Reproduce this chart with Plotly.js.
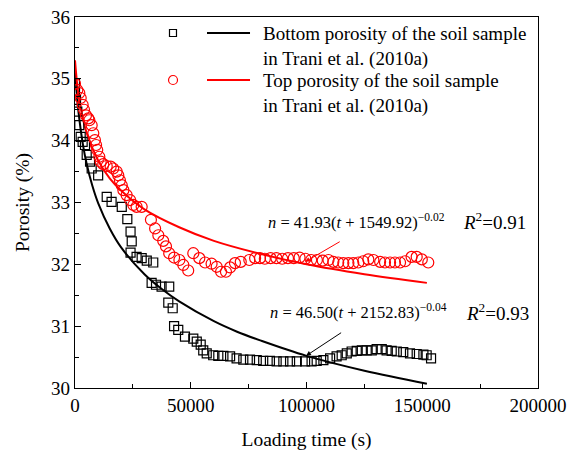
<!DOCTYPE html>
<html>
<head>
<meta charset="utf-8">
<script src="https://cdn.plot.ly/plotly-3.0.1.min.js"></script>
<style>html,body{margin:0;padding:0;background:#fff}#chart{width:571px;height:455px}</style>
</head>
<body>
<div id="chart"></div>
<script>
// Bottom porosity measurements (s, %)
const bottomTime = [0, 0, 430, 1000, 1860, 2460, 3300, 4320, 5050, 6500, 7200, 10000, 13700, 15800, 20200,
  22600, 24000, 24500, 24000, 26600, 28800, 31000, 33800, 33100, 35000, 37400, 40700, 40300, 42200,
  42800, 44600, 47500, 51100, 52600, 54300, 55400, 56900, 59700, 61900, 64100, 67000, 69800, 72700,
  75600, 78500, 81300, 84200, 87100, 90000, 92900, 95800, 99400, 102200, 104400, 107300, 110200,
  113000, 115200, 117400, 119500, 121700, 123900, 126000, 128200, 130300, 132500, 134600, 136800,
  139000, 141800, 144700, 147600, 150500, 151900, 153800];
const bottomPorosity = [34.93, 34.79, 34.66, 34.47, 34.25, 34.06, 33.98, 33.93, 33.77, 33.66, 33.55, 33.44, 33.09, 33.01, 32.93,
  32.73, 32.53, 32.37, 32.19, 32.12, 32.10, 32.06, 32.03, 31.70, 31.67, 31.64, 31.64, 31.38, 31.29,
  31.00, 30.94, 30.83, 30.80, 30.75, 30.70, 30.61, 30.56, 30.53, 30.52, 30.52, 30.51, 30.48, 30.46,
  30.46, 30.45, 30.44, 30.44, 30.43, 30.43, 30.43, 30.43, 30.43, 30.43, 30.44, 30.45, 30.48,
  30.51, 30.53, 30.56, 30.59, 30.60, 30.61, 30.61, 30.61, 30.63, 30.63, 30.61, 30.60,
  30.59, 30.58, 30.56, 30.55, 30.54, 30.53, 30.48];

// Top porosity measurements (s, %)
const topTime = [0, 1000, 1860, 2460, 3300, 3900, 4750, 5750, 6200, 7200, 7900, 8600, 9100, 9600, 10500, 11100,
  12200, 13700, 15400, 16500, 18000, 18700, 19400, 20200, 20900, 22300, 23800, 25200, 26600, 28800,
  32800, 34600, 36000, 38100, 39300, 40700, 42800, 45100, 46800, 48900, 51100, 53700, 56200, 59000,
  61200, 63100, 65200, 67000, 69100, 71600, 75300, 77800, 79900, 82000, 84500, 87000, 89500, 92000,
  94500, 97000, 99500, 102000, 104500, 107000, 109500, 111600, 113700, 115900, 118100, 120200, 122400,
  124500, 126700, 128900, 131800, 133900, 136100, 138200, 140400, 142600, 145400, 147600, 149800, 152600];
const topPorosity = [34.92, 34.82, 34.77, 34.69, 34.58, 34.50, 34.41, 34.36, 34.33, 34.25, 34.12, 34.01, 33.93, 33.85, 33.74, 33.66,
  33.62, 33.59, 33.58, 33.55, 33.50, 33.44, 33.36, 33.28, 33.20, 33.12, 33.04, 32.96, 32.93, 32.93,
  32.72, 32.58, 32.47, 32.38, 32.29, 32.18, 32.11, 32.07, 31.99, 31.90, 32.18, 32.10, 32.03, 32.01,
  31.96, 31.88, 31.88, 31.95, 32.02, 32.04, 32.07, 32.10, 32.10, 32.09, 32.10, 32.10, 32.09, 32.10,
  32.10, 32.11, 32.09, 32.07, 32.07, 32.06, 32.07, 32.04, 32.03, 32.02, 32.02, 32.02, 32.03,
  32.05, 32.08, 32.07, 32.04, 32.03, 32.03, 32.03, 32.03, 32.05, 32.12, 32.12, 32.08, 32.03];

// Fitted curves
const bottomFitTime = [0, 1000, 2000, 3500, 5000, 7500, 10000, 15000, 20000, 30000, 37500, 45000, 60000, 70000, 80000, 100000, 125000, 152000];
const bottomFitPorosity = [35.14, 34.65, 34.31, 33.92, 33.63, 33.27, 32.99, 32.58, 32.27, 31.84, 31.60, 31.40, 31.08, 30.91, 30.77, 30.52, 30.28, 30.07];
const topFitTime = [0, 1000, 2000, 5000, 10000, 15000, 20000, 30000, 45000, 60000, 80000, 100000, 125000, 152000];
const topFitPorosity = [35.30, 34.89, 34.62, 34.13, 33.68, 33.39, 33.19, 32.89, 32.60, 32.38, 32.17, 32.00, 31.84, 31.70];

const xTickVals = [0, 50000, 100000, 150000, 200000];
const xTickText = ['0', '50000', '100000', '150000', '200000'];

const legendLabels = ["Bottom porosity of the soil sample<br>in Trani et al. (2010a)",
                      "Top porosity of the soil sample<br>in Trani et al. (2010a)"];
const eqTop = "<i>n</i> = 41.93(<i>t</i> + 1549.92)<sup>−0.02</sup>";
const eqBottom = "<i>n</i> = 46.50(<i>t</i> + 2152.83)<sup>−0.04</sup>";
const r2Top = "<i>R</i><sup>2</sup>=0.91";
const r2Bottom = "<i>R</i><sup>2</sup>=0.93";

const FONT = "Liberation Serif";

const traces = [
  {x: bottomFitTime, y: bottomFitPorosity, mode: 'lines', line: {color: '#000', width: 2, shape: 'spline'}, showlegend: false, hoverinfo: 'skip'},
  {x: topFitTime, y: topFitPorosity, mode: 'lines', line: {color: '#ff0000', width: 2, shape: 'spline'}, showlegend: false, hoverinfo: 'skip'},
  {x: bottomTime, y: bottomPorosity, mode: 'markers', marker: {symbol: 'square-open', size: 9, color: '#000', line: {width: 1.2}}, showlegend: false},
  {x: topTime, y: topPorosity, mode: 'markers', marker: {symbol: 'circle-open', size: 11, color: '#ff0000', line: {width: 1.2}}, showlegend: false}
];

const layout = {
  width: 571, height: 455,
  margin: {l: 75, r: 33, t: 17, b: 67},
  paper_bgcolor: '#fff', plot_bgcolor: '#fff',
  font: {family: FONT, size: 19, color: '#000'},
  xaxis: {
    range: [0, 200000], tickvals: xTickVals, ticktext: xTickText,
    tickfont: {family: FONT, size: 19},
    ticks: 'inside', ticklen: 6, tickwidth: 1, tickcolor: '#000',
    minor: {ticks: 'inside', dtick: 25000, ticklen: 4, tickcolor: '#000'},
    showline: true, linecolor: '#000', linewidth: 1.2, mirror: true,
    showgrid: false, zeroline: false,
    title: {text: 'Loading time (s)', font: {family: FONT, size: 19.5}, standoff: 17}
  },
  yaxis: {
    range: [30, 36], dtick: 1,
    tickfont: {family: FONT, size: 19},
    ticks: 'inside', ticklen: 6, tickwidth: 1, tickcolor: '#000',
    minor: {ticks: 'inside', dtick: 0.5, ticklen: 4, tickcolor: '#000'},
    showline: true, linecolor: '#000', linewidth: 1.2, mirror: true,
    showgrid: false, zeroline: false,
    title: {text: 'Porosity (%)', font: {family: FONT, size: 19.5}, standoff: 16}
  },
  shapes: [
    {type: 'rect', xref: 'paper', yref: 'paper', x0: 0.2041, x1: 0.2192, y0: 0.9475, y1: 0.9663, line: {color: '#000', width: 1.2}},
    {type: 'line', xref: 'paper', yref: 'paper', x0: 0.2851, x1: 0.3780, y0: 0.9569, y1: 0.9569, line: {color: '#000', width: 2}},
    {type: 'circle', xref: 'paper', yref: 'paper', x0: 0.2020, x1: 0.2214, y0: 0.8181, y1: 0.8423, line: {color: '#ff0000', width: 1.2}},
    {type: 'line', xref: 'paper', yref: 'paper', x0: 0.2851, x1: 0.3780, y0: 0.8302, y1: 0.8302, line: {color: '#ff0000', width: 2}}
  ],
  annotations: [
    {xref: 'paper', yref: 'paper', x: 0.4017, y: 0.988, xanchor: 'left', yanchor: 'top', align: 'left', showarrow: false,
     text: legendLabels[0], font: {family: FONT, size: 19}},
    {xref: 'paper', yref: 'paper', x: 0.4017, y: 0.862, xanchor: 'left', yanchor: 'top', align: 'left', showarrow: false,
     text: legendLabels[1], font: {family: FONT, size: 19}},
    {x: 121500, y: 32.7, xanchor: 'center', yanchor: 'middle', showarrow: false, text: eqTop, font: {family: FONT, size: 16.5}},
    {x: 181000, y: 32.7, xanchor: 'center', yanchor: 'middle', showarrow: false, text: r2Top, font: {family: FONT, size: 19}},
    {x: 122500, y: 31.23, xanchor: 'center', yanchor: 'middle', showarrow: false, text: eqBottom, font: {family: FONT, size: 16.5}},
    {x: 182500, y: 31.23, xanchor: 'center', yanchor: 'middle', showarrow: false, text: r2Bottom, font: {family: FONT, size: 19}},
    {x: 99400, y: 32.04, ax: 115000, ay: 32.38, axref: 'x', ayref: 'y', showarrow: true, arrowhead: 2, arrowsize: 1,
     arrowwidth: 1, arrowcolor: '#ff0000', text: ''},
    {x: 99800, y: 30.52, ax: 115600, ay: 30.91, axref: 'x', ayref: 'y', showarrow: true, arrowhead: 2, arrowsize: 1,
     arrowwidth: 1, arrowcolor: '#000', text: ''}
  ]
};

Plotly.newPlot('chart', traces, layout, {displayModeBar: false, staticPlot: true});
</script>
</body>
</html>
